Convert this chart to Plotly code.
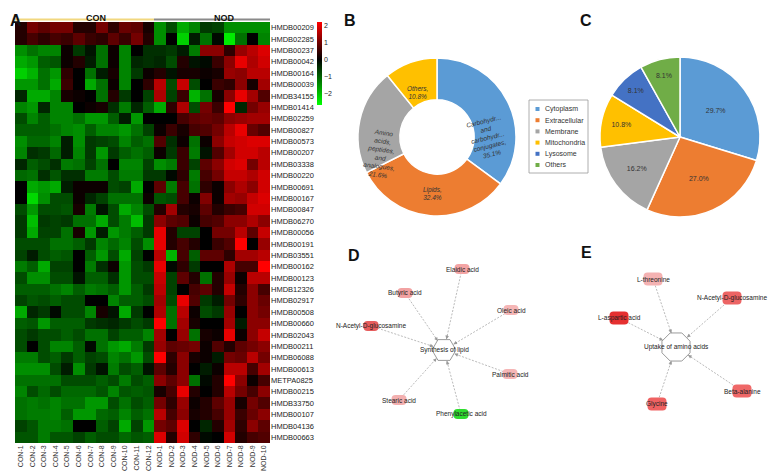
import math
import plotly.graph_objects as go

W, H = 768, 471
def px(x): return x / W
def py(y): return 1 - y / H

FONT = "Liberation Sans, Arial, sans-serif"

# ---------------- Panel A data ----------------
samples = ["CON-1", "CON-2", "CON-3", "CON-4", "CON-5", "CON-6", "CON-7", "CON-8",
           "CON-9", "CON-10", "CON-11", "CON-12",
           "NOD-1", "NOD-2", "NOD-3", "NOD-4", "NOD-5", "NOD-6", "NOD-7", "NOD-8",
           "NOD-9", "NOD-10"]
metabolites = ["HMDB00209", "HMDB02285", "HMDB00237", "HMDB00042", "HMDB00164", "HMDB00039",
               "HMDB34155", "HMDB01414", "HMDB02259", "HMDB00827", "HMDB00573", "HMDB00207",
               "HMDB03338", "HMDB00220", "HMDB00691", "HMDB00167", "HMDB00847", "HMDB06270",
               "HMDB00056", "HMDB00191", "HMDB03551", "HMDB00162", "HMDB00123", "HMDB12326",
               "HMDB02917", "HMDB00508", "HMDB00660", "HMDB02043", "HMDB00211", "HMDB06088",
               "HMDB00613", "METPA0825", "HMDB00215", "HMDB33750", "HMDB00107", "HMDB04136",
               "HMDB00663"]
z_values = [
    [0.3, 1.0, 0.8, 1.0, 1.0, 0.3, 0.3, 1.0, 0.4, 0.9, 0.8, 0.2, -1.5, -0.8, -1.8, -1.4, -0.6, -0.7, -1.5, -1.5, -1.5, -1.5],
    [0.3, 0.6, 0.4, 0.6, 0.5, 0.8, 0.5, 0.4, 0.8, 0.5, 1.0, 0.3, -1.5, 0.0, -2.2, -0.3, -1.2, -0.1, -2.5, -1.2, 0.0, -1.4],
    [-1.5, -1.2, -1.4, -1.4, 0.1, -0.6, -0.2, -1.2, 0.1, -1.4, 0.0, -0.5, -0.5, -0.6, -0.3, -1.3, 1.2, 1.2, 0.4, 1.3, 1.6, 1.9],
    [-1.8, -1.6, -1.0, -0.9, 0.1, 0.3, -0.3, -1.2, 0.1, -1.4, -0.4, -0.5, -0.4, -0.8, 0.3, -0.2, -0.1, 0.5, 1.2, 2.0, 1.5, 1.8],
    [-2.2, -1.9, -1.2, -1.6, 0.4, 0.0, -1.2, -0.3, 0.2, -1.4, -0.6, 0.1, 0.3, -0.2, 0.2, 0.2, 0.1, 0.2, 1.3, 1.2, 1.6, 1.6],
    [-1.6, -1.6, -1.2, -1.8, 0.5, 0.0, -1.8, -1.2, 0.1, -1.4, 0.0, 0.4, 1.6, -0.8, 1.7, -0.8, 0.0, 0.5, 0.4, 1.2, 0.2, 1.4],
    [-0.4, -1.8, -1.8, -1.4, 0.2, 0.1, 0.0, -1.2, 0.3, -0.6, 0.0, -0.7, 1.5, -0.7, 0.5, -1.9, -1.2, 0.2, 1.2, 2.0, 1.4, 0.7],
    [-1.4, -1.6, -0.4, -1.4, -1.4, 0.0, 0.1, 0.2, -0.5, -1.3, -0.4, -1.0, -1.8, 0.4, 1.5, -0.8, 1.0, 0.5, 2.2, -0.4, 1.0, 1.3],
    [-0.8, -1.4, -1.0, -1.4, -1.4, -1.2, -1.6, -1.6, -1.0, -0.3, -1.6, 0.0, 0.0, 0.0, 0.6, 0.8, 0.9, 0.8, 1.2, 1.3, 1.4, 1.4],
    [-1.0, -1.0, -1.0, -1.2, -1.4, -1.5, -1.0, -1.4, -1.4, -1.6, -1.2, -0.7, 0.1, 0.5, 0.2, 0.6, 0.7, 1.0, 1.6, 2.0, 0.9, 0.7],
    [-1.5, -1.1, -1.1, -1.4, -0.3, -1.5, -0.6, -0.7, -0.8, -1.4, -1.0, -1.2, 0.7, -0.5, 0.1, -1.2, 0.1, 1.2, 1.7, 1.8, 1.9, 1.9],
    [-1.4, -0.5, -0.6, -1.1, -0.3, -1.4, -0.6, -1.6, -0.6, -1.0, -1.2, -1.0, 0.1, -0.6, 0.5, -1.3, -0.2, 0.7, 1.4, 1.8, 1.8, 1.6],
    [-0.4, -1.0, -0.8, -0.5, -1.3, -1.2, -0.7, -1.2, 0.0, -1.4, -1.4, -0.7, -1.5, -1.3, 0.5, -0.7, 0.8, 1.2, 1.8, 1.9, 1.0, 1.6],
    [-1.1, -1.2, -0.5, -0.9, -0.5, -0.5, -1.3, -1.3, -0.8, -1.3, -1.3, -0.6, -0.6, -0.1, 0.4, -1.3, 0.6, 1.0, 1.7, 1.7, 1.5, 1.8],
    [0.0, -1.8, -1.6, -1.8, -0.3, 0.1, 0.1, 0.1, -0.8, -0.7, -1.8, 0.0, 0.8, -1.3, 0.6, -1.2, 0.4, 0.1, 1.2, 1.5, 1.2, 1.8],
    [0.0, -2.3, -1.5, -0.8, -0.8, 0.1, -0.4, -0.7, -1.2, -1.2, -1.2, 0.1, -0.9, -0.8, 0.6, 0.1, 1.1, 0.1, 1.4, 1.3, 1.7, 1.9],
    [-0.8, -1.6, -0.8, -0.8, -0.9, 0.2, -1.3, -0.2, -0.8, -1.8, -1.4, -0.8, 0.3, 1.4, 0.3, 0.2, 0.8, 0.3, 0.5, 0.6, 1.8, 1.8],
    [-0.6, -2.0, -0.6, -0.7, -0.6, -1.2, -1.2, -1.8, -0.8, -1.3, -2.0, -0.6, 1.2, 0.8, 0.7, 0.1, 0.6, 0.7, 1.2, 1.2, 1.5, 1.2],
    [-0.6, -1.8, -0.7, -0.7, -1.2, 0.2, -1.6, -0.3, -1.6, -1.3, -1.0, -0.6, 2.0, 0.3, -0.7, -0.7, 0.0, 1.0, 1.0, 1.6, 0.8, 1.7],
    [-0.8, -0.8, -0.8, -1.2, -1.2, -1.0, -0.6, -1.4, -1.1, -1.4, -0.8, -1.5, 2.0, 0.3, 0.6, 0.3, 0.0, 0.5, 0.7, 2.2, 0.0, 1.3],
    [-0.7, -0.3, -0.8, -1.0, -0.9, 0.0, -1.0, -1.6, -0.8, -1.8, -0.7, 0.0, 1.6, -1.9, 0.6, -1.0, 0.8, 0.8, 0.4, 1.4, 1.4, 1.6],
    [-1.3, -1.0, -1.8, -0.7, -0.7, 0.0, -1.3, -0.5, 0.1, -1.6, -0.8, -0.6, 2.0, -0.1, 0.4, -0.6, 0.0, 0.0, 1.5, 0.6, 0.6, 2.3],
    [-0.8, -1.5, -1.5, -0.8, -0.8, -0.2, -1.0, -1.0, -0.5, -1.6, -0.8, -0.8, 1.7, -0.7, 0.8, 0.3, -1.2, 0.3, 1.3, 0.1, 1.6, 1.6],
    [-1.0, -1.0, -1.0, -1.2, -1.4, -1.0, -1.3, -1.2, -1.0, -1.6, -1.0, -0.6, 1.6, -0.7, 0.0, 0.6, 0.8, 0.3, 1.7, 0.3, 1.2, 0.6],
    [-0.7, -0.9, -0.8, -1.0, -0.8, -0.8, 0.0, 0.0, -1.4, -1.0, -1.0, -0.8, 1.4, -0.8, 2.0, 0.7, -0.6, -0.3, 1.0, 0.4, 1.2, 0.9],
    [-1.8, -0.4, -0.6, -0.1, -0.8, -0.8, -1.4, 0.2, -0.2, -1.8, -0.6, 0.0, 1.5, -1.2, 1.6, 0.1, -0.8, -0.6, 1.3, 0.0, 1.2, 1.0],
    [-1.0, -0.9, -1.6, -1.0, -1.0, -1.0, -0.6, -0.5, -0.4, -0.6, -0.8, -0.6, 2.3, -1.2, 1.4, 0.2, 0.0, 0.0, 1.4, -0.3, 1.2, 1.2],
    [-0.8, -0.6, -0.8, -0.8, -1.0, -0.8, -1.2, -1.2, -0.7, -1.0, -1.0, -1.4, 1.4, 0.0, 1.3, -1.2, 0.2, 0.1, 2.0, 0.1, 1.2, 1.7],
    [-0.8, 0.0, -0.8, -1.4, -1.4, -1.0, -0.1, -1.2, -1.6, -1.8, -1.3, -0.6, 1.3, 0.8, 0.9, 1.0, 0.1, 0.7, 0.3, 0.8, 1.0, 1.2],
    [-1.3, -1.3, -0.8, -1.0, -0.6, -1.0, -0.7, -0.8, -1.4, -1.2, -1.6, -0.8, 2.2, 0.4, 1.2, 0.2, 0.1, -0.3, 1.0, 0.9, 1.6, 1.0],
    [-1.5, -1.5, -1.5, -0.8, -0.3, -1.5, -0.6, -0.2, -1.3, -0.8, -1.0, -0.2, 0.8, 0.3, 1.2, 0.0, -0.3, 0.1, 1.6, 1.6, 0.6, 1.4],
    [-1.2, -1.2, -1.2, -1.2, -0.8, -0.8, -0.8, -1.0, -0.8, -1.3, -0.8, -1.0, 1.2, 0.8, 1.2, -1.2, -0.1, 0.3, 2.2, 1.2, 0.1, 0.6],
    [-1.4, -0.8, -1.1, -0.8, -1.1, -1.1, -1.1, -0.9, -1.4, -0.9, -1.0, -0.9, 0.2, 0.6, 2.0, 0.3, 0.0, 0.3, 1.6, 1.0, 0.6, 1.2],
    [-1.2, -1.3, -1.2, -1.4, -1.2, -1.2, -1.6, -1.6, -0.8, -1.2, -0.8, -1.0, 1.0, 0.4, 1.3, 0.1, 0.3, 0.8, 1.3, 0.2, 1.0, 0.7],
    [-1.2, -1.3, -1.3, -1.4, -1.0, -1.6, -1.6, -1.1, -1.0, -1.4, -1.0, -1.2, 1.6, 0.6, 1.2, 0.2, 0.3, 0.6, 1.3, 0.5, 0.9, 1.2],
    [-0.7, -0.9, -1.3, -1.3, -1.2, 0.0, 0.0, -1.0, -0.7, -1.8, -0.7, -1.6, 1.0, 0.8, 1.9, 0.0, -0.4, 0.3, 1.4, 0.4, 1.2, 0.8],
    [-0.9, -0.9, -1.3, -0.9, -0.9, -0.7, -1.0, -0.8, -0.8, -1.1, -0.9, -1.0, 1.9, 0.3, 1.8, 0.4, -0.1, 0.0, 1.8, 0.3, 0.6, 0.7],
]
color_ticks = [-2, -1, 0, 1, 2]

# ---------------- Panel B data ----------------
class_labels = ["Carbohydrates and carbohydrate conjugates", "Lipids",
                "Amino acids, peptides, and analogues", "Others"]
class_text = ["Carbohydr...<br>and<br>carbohydr...<br>conjugates,", "Lipids,",
              "Amino<br>acids,<br>peptides,<br>and<br>analogues,", "Others,"]
class_counts = [13, 12, 8, 4]
class_colors = ["#5B9BD5", "#ED7D31", "#A5A5A5", "#FFC000"]
class_text_tilt = [-14, 0, 8, 0]

# ---------------- Panel C data ----------------
loc_labels = ["Cytoplasm", "Extracellular", "Membrane", "Mitochondria", "Lysosome", "Others"]
loc_counts = [11, 10, 6, 4, 3, 3]
loc_colors = ["#5B9BD5", "#ED7D31", "#A5A5A5", "#FFC000", "#4472C4", "#70AD47"]

# ---------------- Panel D / E network data (layout positions) ----------------
lipid_hub = ("Synthesis of lipid", 444, 350)
lipid_nodes = ["Butyric acid", "Elaidic acid", "Oleic acid", "N-Acetyl-D-glucosamine",
               "Palmitic acid", "Stearic acid", "Phenylacetic acid"]
lipid_x = [405, 462, 511, 371, 510, 399, 461]
lipid_y = [293, 269, 310, 326, 374, 400, 414]
lipid_colors = ["#f2a2a2", "#f3a4a4", "#f5b6b6", "#e65e5e", "#f5b6b6", "#f3b0b0", "#2fdc2f"]

amino_hub = ("Uptake of amino acids", 676, 347)
amino_nodes = ["L-threonine", "N-Acetyl-D-glucosamine", "L-aspartic acid", "Glycine", "Beta-alanine"]
amino_x = [653, 732, 619, 657, 742]
amino_y = [279, 298, 318, 404, 391]
amino_colors = ["#f4b2b2", "#ec6464", "#e53030", "#ef6262", "#ef6868"]

fig = go.Figure()

# Heatmap
fig.add_trace(go.Heatmap(
    z=z_values, x=samples, y=metabolites, xaxis="x", yaxis="y",
    zmin=-2.7, zmax=2.2,
    colorscale=[[0, "#00ff00"], [0.551, "#000000"], [1, "#ff0000"]],
    colorbar=dict(x=px(317), xanchor="left", xref="paper", y=py(22), yanchor="top",
                  lenmode="pixels", len=83, thickness=5, thicknessmode="pixels",
                  xpad=0, ypad=0, outlinewidth=0, ticks="",
                  tickvals=color_ticks, ticktext=["\u22122", "\u22121", "0", "1", "2"],
                  tickfont=dict(size=7, color="#222", family=FONT)),
    hoverinfo="skip",
))

# Donut B
B_CX, B_CY, B_R, B_HOLE = 437, 137, 79, 0.47
fig.add_trace(go.Pie(
    labels=class_labels, values=class_counts, hole=B_HOLE,
    sort=False, direction="clockwise", rotation=0,
    marker=dict(colors=class_colors, line=dict(color="white", width=1.5)),
    textinfo="none",
    domain=dict(x=[px(B_CX - B_R), px(B_CX + B_R)], y=[py(B_CY + B_R), py(B_CY - B_R)]),
    showlegend=False, hoverinfo="skip",
))

# Pie C
fig.add_trace(go.Pie(
    labels=loc_labels, values=loc_counts, sort=False, direction="clockwise", rotation=0,
    marker=dict(colors=loc_colors, line=dict(color="white", width=1.5)),
    texttemplate="%{percent:.1%}", textposition="inside",
    insidetextorientation="horizontal",
    textfont=dict(size=7, color="#333", family=FONT),
    domain=dict(x=[px(600), px(760)], y=[py(217), py(57)]),
    showlegend=False, hoverinfo="skip",
))

shapes = []
annotations = []

# donut B labels placed at the middle of each ring segment
total_b = sum(class_counts)
cum = 0
r_text = B_R * (1 + B_HOLE) / 2 - 1
for txt, cnt, tilt in zip(class_text, class_counts, class_text_tilt):
    mid = (cum + cnt / 2) / total_b * 2 * math.pi
    cum += cnt
    tx = B_CX + r_text * math.sin(mid)
    ty = B_CY - r_text * math.cos(mid)
    annotations.append(dict(text="<i>%s<br>%.1f%%</i>" % (txt, 100 * cnt / total_b),
                            x=px(tx), y=py(ty), xref="paper", yref="paper", showarrow=False,
                            textangle=tilt, font=dict(size=6.5, color="#333", family=FONT)))

# header bars for groups
shapes.append(dict(type="line", xref="paper", yref="paper", x0=px(15), x1=px(154),
                   y0=py(19.5), y1=py(19.5), line=dict(color="#f1d77f", width=1.8)))
shapes.append(dict(type="line", xref="paper", yref="paper", x0=px(154), x1=px(270),
                   y0=py(19.5), y1=py(19.5), line=dict(color="#8a8a8a", width=1.8)))
annotations.append(dict(text="<b>CON</b>", x=px(84), y=py(11), xref="paper", yref="paper",
                        showarrow=False, font=dict(size=9, color="#111", family=FONT)))
annotations.append(dict(text="<b>NOD</b>", x=px(212), y=py(11), xref="paper", yref="paper",
                        showarrow=False, font=dict(size=9, color="#111", family=FONT)))

# panel letters
for letter, lx, ly in [("A", 8, 10), ("B", 350, 10), ("C", 594, 10), ("D", 354, 255), ("E", 594, 252)]:
    annotations.append(dict(text="<b>%s</b>" % letter, x=px(lx), y=py(ly), xref="paper",
                            yref="paper", showarrow=False,
                            font=dict(size=16, color="#111", family=FONT)))

# custom legend for C
shapes.append(dict(type="rect", xref="paper", yref="paper", x0=px(529), x1=px(588),
                   y0=py(173), y1=py(100), line=dict(color="#9a9a9a", width=0.8),
                   fillcolor="white"))
for i, (lab, col) in enumerate(zip(loc_labels, loc_colors)):
    yc = 109 + i * 11.2
    shapes.append(dict(type="rect", xref="paper", yref="paper", x0=px(535.5), x1=px(539.5),
                       y0=py(yc + 2), y1=py(yc - 2), line=dict(width=0), fillcolor=col))
    annotations.append(dict(text=lab, x=px(543), y=py(yc), xref="paper", yref="paper",
                            xanchor="left", yanchor="middle", showarrow=False,
                            font=dict(size=7, color="#333", family=FONT)))

# networks
def rrect(cx, cy, w, h, r):
    x0, x1, y0, y1 = cx - w / 2, cx + w / 2, cy - h / 2, cy + h / 2
    return (f"M {x0 + r},{y0} L {x1 - r},{y0} Q {x1},{y0} {x1},{y0 + r} "
            f"L {x1},{y1 - r} Q {x1},{y1} {x1 - r},{y1} L {x0 + r},{y1} "
            f"Q {x0},{y1} {x0},{y1 - r} L {x0},{y0 + r} Q {x0},{y0} {x0 + r},{y0} Z")

def polygon(cx, cy, r, n, offset):
    pts = []
    for k in range(n):
        a = math.radians(offset + 360 * k / n)
        pts.append((cx + r * math.cos(a), cy + r * math.sin(a)))
    return "M " + " L ".join(f"{x:.2f},{y:.2f}" for x, y in pts) + " Z"

def draw_network(hub, names, xs, ys, colors, nw, nh, hub_r, n_sides, offset, edge_r):
    hname, hx, hy = hub
    for name, x, y, c in zip(names, xs, ys, colors):
        dx, dy = hx - x, hy - y
        d = math.hypot(dx, dy)
        ux, uy = dx / d, dy / d
        ex, ey = hx - ux * edge_r, hy - uy * edge_r
        fig.add_trace(go.Scatter(x=[x, ex], y=[y, ey], mode="lines", xaxis="x2", yaxis="y2",
                                 line=dict(color="#a8a8a8", width=0.8, dash="2px,1.5px"),
                                 showlegend=False, hoverinfo="skip"))
        annotations.append(dict(x=ex, y=ey, ax=ex - ux * 6, ay=ey - uy * 6, xref="x2", yref="y2",
                                axref="x2", ayref="y2", text="", showarrow=True, arrowhead=2,
                                arrowsize=0.9, arrowwidth=0.8, arrowcolor="#9a9a9a"))
        shapes.append(dict(type="path", xref="x2", yref="y2", path=rrect(x, y, nw, nh, 4),
                           fillcolor=c, line=dict(width=0), layer="above"))
        annotations.append(dict(text=name, x=x, y=y, xref="x2", yref="y2", showarrow=False,
                                font=dict(size=6.5, color="#222", family=FONT)))
    shapes.append(dict(type="path", xref="x2", yref="y2",
                       path=polygon(hx, hy, hub_r, n_sides, offset),
                       fillcolor="white", line=dict(color="#9a9a9a", width=1), layer="above"))
    annotations.append(dict(text=hname, x=hx, y=hy, xref="x2", yref="y2", showarrow=False,
                            font=dict(size=6.5, color="#222", family=FONT)))

draw_network(lipid_hub, lipid_nodes, lipid_x, lipid_y, lipid_colors, 15, 10, 12, 6, 0, 11)
draw_network(amino_hub, amino_nodes, amino_x, amino_y, amino_colors, 19, 13, 15.2, 8, 22.5, 14.5)

fig.update_layout(
    width=W, height=H, margin=dict(l=0, r=0, t=0, b=0),
    paper_bgcolor="white", plot_bgcolor="white",
    font=dict(family=FONT, color="#222"),
    xaxis=dict(domain=[px(15), px(270)], tickangle=-90, ticks="", showgrid=False,
               zeroline=False, tickfont=dict(size=7, color="#333"), automargin=False),
    yaxis=dict(domain=[py(443), py(22)], autorange="reversed", side="right", ticks="",
               showgrid=False, zeroline=False, tickfont=dict(size=7.5, color="#222"),
               automargin=False),
    xaxis2=dict(domain=[px(300), 1], range=[300, 768], visible=False, fixedrange=True),
    yaxis2=dict(domain=[0, py(240)], range=[471, 240], visible=False, fixedrange=True),
    shapes=shapes, annotations=annotations,
)

fig.write_html("out.html", config={"displayModeBar": False},
               post_script="document.body.style.margin='0px';document.body.style.overflow='hidden';")
